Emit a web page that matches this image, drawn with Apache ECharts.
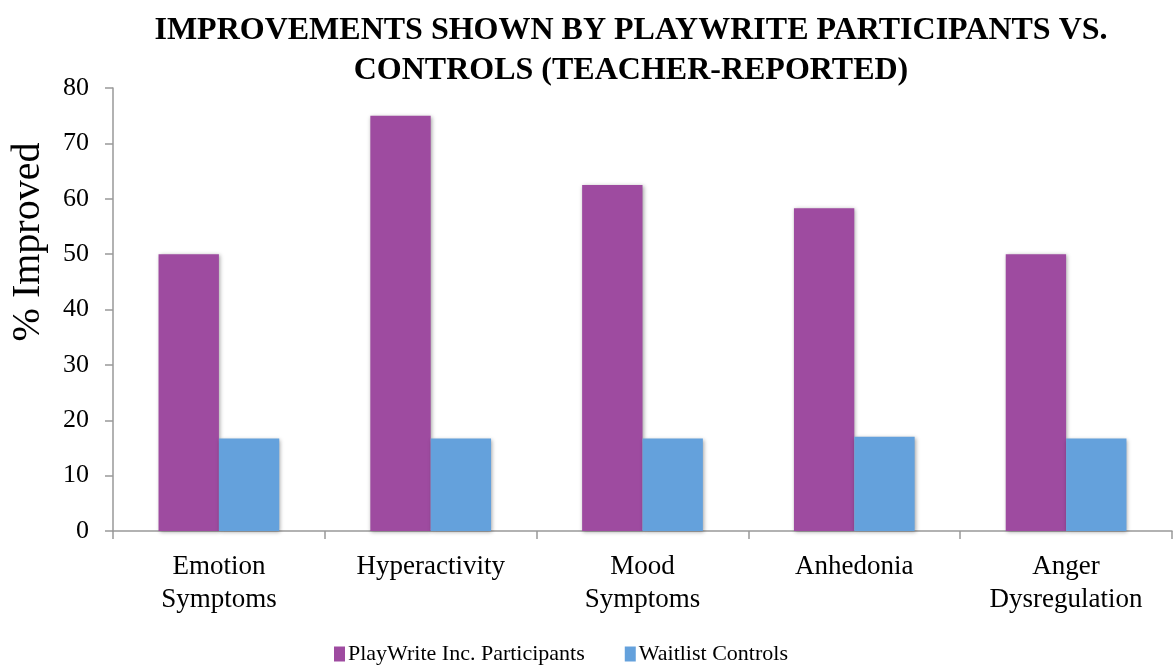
<!DOCTYPE html>
<html><head><meta charset="utf-8">
<script src="https://cdn.jsdelivr.net/npm/echarts@6/dist/echarts.min.js"></script>
<style>html,body{margin:0;padding:0;background:#fff}#c{width:1173px;height:667px}</style>
</head><body><div id="c"></div>
<script>
const categories = ['Emotion\nSymptoms', 'Hyperactivity', 'Mood\nSymptoms', 'Anhedonia', 'Anger\nDysregulation'];
const participants = [50, 75, 62.5, 58.3, 50];
const controls = [16.7, 16.7, 16.7, 17, 16.7];
const yTicks = [0, 10, 20, 30, 40, 50, 60, 70, 80];
const seriesNames = ['PlayWrite Inc. Participants', 'Waitlist Controls'];
const titleText = 'IMPROVEMENTS SHOWN BY PLAYWRITE PARTICIPANTS VS.\nCONTROLS (TEACHER-REPORTED)';
const yTitle = '% Improved';

const serif = '"Liberation Serif", "DejaVu Serif", serif';
const chart = echarts.init(document.getElementById('c'));
const shadow = {shadowBlur: 4, shadowColor: 'rgba(0,0,0,0.35)', shadowOffsetX: 1, shadowOffsetY: 1};
chart.setOption({
  animation: false,
  title: {
    text: titleText, left: 626, textAlign: 'center', top: 6,
    textStyle: {fontFamily: serif, fontWeight: 'bold', fontSize: 32, lineHeight: 40, color: '#000'}
  },
  graphic: [{
    type: 'text', x: 28, y: 242, rotation: Math.PI / 2,
    style: {text: yTitle, fontFamily: serif, fontSize: 40, fill: '#000', align: 'center', verticalAlign: 'middle'}
  }],
  legend: {
    left: 329, top: 638, itemWidth: 11, itemHeight: 15, itemGap: 40,
    icon: 'rect',
    textStyle: {fontFamily: serif, fontSize: 22, color: '#000', padding: [0,0,0,-2]},
    data: seriesNames
  },
  grid: {left: 113, right: 1, top: 88, bottom: 136},
  xAxis: {
    type: 'category', data: categories,
    axisLine: {lineStyle: {color: '#999', width: 1.5}},
    axisTick: {show: true, length: 8, lineStyle: {color: '#999', width: 1.5}},
    axisLabel: {fontFamily: serif, fontSize: 27, color: '#000', margin: 19, lineHeight: 33}
  },
  yAxis: {
    type: 'value', min: 0, max: 80, interval: 10,
    axisLine: {show: true, lineStyle: {color: '#999', width: 1.5}},
    axisTick: {show: true, length: 8, lineStyle: {color: '#999', width: 1.5}},
    splitLine: {show: false},
    axisLabel: {fontFamily: serif, fontSize: 26, color: '#000', margin: 24,
      formatter: v => yTicks.includes(v) ? String(v) : ''}
  },
  series: [
    {name: seriesNames[0], type: 'bar', data: participants, barGap: '0%', barCategoryGap: '43%',
     itemStyle: Object.assign({color: '#9E4BA0'}, shadow)},
    {name: seriesNames[1], type: 'bar', data: controls, barGap: '0%', barCategoryGap: '43%',
     itemStyle: Object.assign({color: '#64A1DC'}, shadow)}
  ]
});
</script></body></html>
